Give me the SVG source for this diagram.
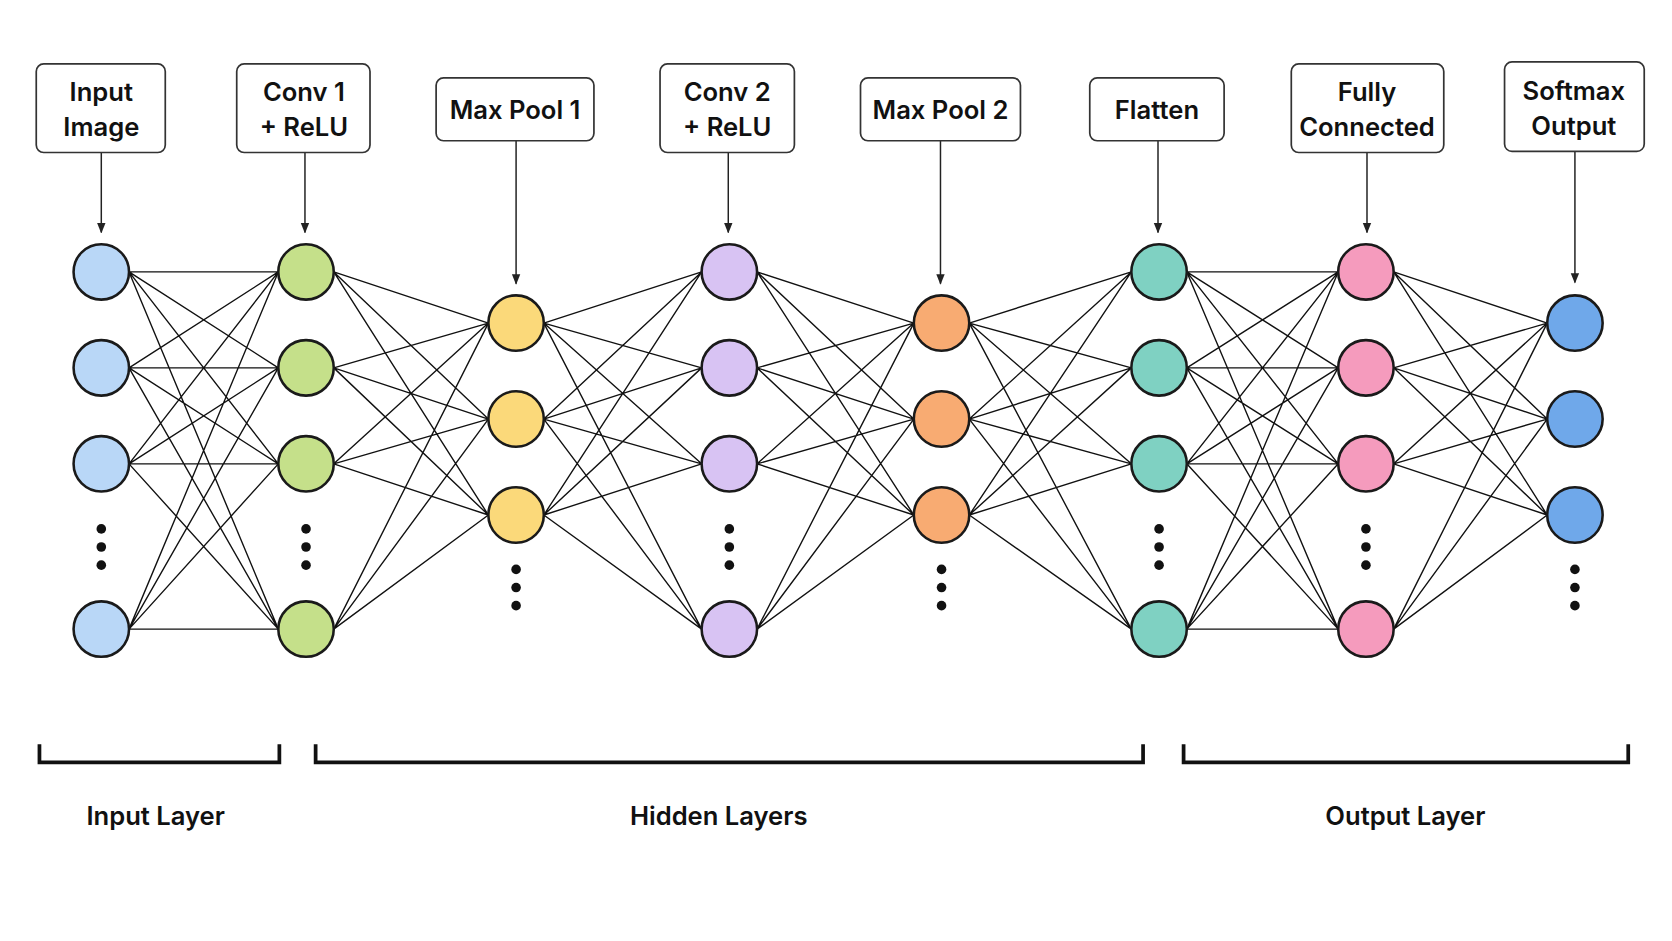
<svg xmlns="http://www.w3.org/2000/svg" width="1672" height="941" viewBox="0 0 1672 941">
<style>
.box{fill:#fff;stroke:#333;stroke-width:1.6}
.t{font-family:"Inter","Noto Sans",sans-serif;font-weight:600;font-size:24px;fill:#111;text-anchor:middle}
.e{stroke:#111;stroke-width:1.3;fill:none}
.a{stroke:#222;stroke-width:1.4;marker-end:url(#ah)}
.n{stroke:#1a1a1a;stroke-width:2.4}
.br{fill:none;stroke:#111;stroke-width:3.5}
</style>
<defs><marker id="ah" viewBox="0 0 10 10" refX="9" refY="5" markerWidth="7" markerHeight="7" orient="auto"><path d="M0,1 L10,5 L0,9z" fill="#222"/></marker></defs>
<rect width="1672" height="941" fill="#fff"/>
<g transform="scale(1.0663)">
<g id="connectors">
<g class="e">
<!-- col1->col2 -->
<path d="M121 255L261 255M121 255L261 345M121 255L261 435M121 255L261 590M121 345L261 255M121 345L261 345M121 345L261 435M121 345L261 590M121 435L261 255M121 435L261 345M121 435L261 435M121 435L261 590M121 590L261 255M121 590L261 345M121 590L261 435M121 590L261 590"/>
<path d="M313 255L458 303M313 255L458 393M313 255L458 483M313 345L458 303M313 345L458 393M313 345L458 483M313 435L458 303M313 435L458 393M313 435L458 483M313 590L458 303M313 590L458 393M313 590L458 483"/>
<path d="M510 303L658 255M510 303L658 345M510 303L658 435M510 303L658 590M510 393L658 255M510 393L658 345M510 393L658 435M510 393L658 590M510 483L658 255M510 483L658 345M510 483L658 435M510 483L658 590"/>
<path d="M710 255L857 303M710 255L857 393M710 255L857 483M710 345L857 303M710 345L857 393M710 345L857 483M710 435L857 303M710 435L857 393M710 435L857 483M710 590L857 303M710 590L857 393M710 590L857 483"/>
<path d="M909 303L1061 255M909 303L1061 345M909 303L1061 435M909 303L1061 590M909 393L1061 255M909 393L1061 345M909 393L1061 435M909 393L1061 590M909 483L1061 255M909 483L1061 345M909 483L1061 435M909 483L1061 590"/>
<path d="M1113 255L1255 255M1113 255L1255 345M1113 255L1255 435M1113 255L1255 590M1113 345L1255 255M1113 345L1255 345M1113 345L1255 435M1113 345L1255 590M1113 435L1255 255M1113 435L1255 345M1113 435L1255 435M1113 435L1255 590M1113 590L1255 255M1113 590L1255 345M1113 590L1255 435M1113 590L1255 590"/>
<path d="M1307 255L1451 303M1307 255L1451 393M1307 255L1451 483M1307 345L1451 303M1307 345L1451 393M1307 345L1451 483M1307 435L1451 303M1307 435L1451 393M1307 435L1451 483M1307 590L1451 303M1307 590L1451 393M1307 590L1451 483"/>
</g>
<line class="a" x1="95" y1="143" x2="95" y2="218"/>
<line class="a" x1="286" y1="143" x2="286" y2="218"/>
<line class="a" x1="484" y1="132" x2="484" y2="266"/>
<line class="a" x1="683" y1="143" x2="683" y2="218"/>
<line class="a" x1="882" y1="132" x2="882" y2="266"/>
<line class="a" x1="1086" y1="132" x2="1086" y2="218"/>
<line class="a" x1="1282" y1="143" x2="1282" y2="218"/>
<line class="a" x1="1477" y1="142" x2="1477" y2="265"/>
</g>
<g id="labels">
<g id="box-input"><rect class="box" x="34" y="60" width="121" height="83" rx="7"/><text class="t" x="95" y="95">Input</text><text class="t" x="95" y="128">Image</text></g>
<g id="box-conv1"><rect class="box" x="222" y="60" width="125" height="83" rx="7"/><text class="t" x="285" y="95">Conv 1</text><text class="t" x="285" y="128">+ ReLU</text></g>
<g id="box-pool1"><rect class="box" x="409" y="73" width="148" height="59" rx="7"/><text class="t" x="483" y="112">Max Pool 1</text></g>
<g id="box-conv2"><rect class="box" x="619" y="60" width="126" height="83" rx="7"/><text class="t" x="682" y="95">Conv 2</text><text class="t" x="682" y="128">+ ReLU</text></g>
<g id="box-pool2"><rect class="box" x="807" y="73" width="150" height="59" rx="7"/><text class="t" x="882" y="112">Max Pool 2</text></g>
<g id="box-flatten"><rect class="box" x="1022" y="73" width="126" height="59" rx="7"/><text class="t" x="1085" y="112">Flatten</text></g>
<g id="box-fc"><rect class="box" x="1211" y="60" width="143" height="83" rx="7"/><text class="t" x="1282" y="95">Fully</text><text class="t" x="1282" y="128">Connected</text></g>
<g id="box-softmax"><rect class="box" x="1411" y="58" width="131" height="84" rx="7"/><text class="t" x="1476" y="94">Softmax</text><text class="t" x="1476" y="127">Output</text></g>
</g>
<g id="nodes">
<g fill="#b9d7f7" class="n"><circle cx="95" cy="255" r="26"/><circle cx="95" cy="345" r="26"/><circle cx="95" cy="435" r="26"/><circle cx="95" cy="590" r="26"/></g>
<g fill="#c5e08a" class="n"><circle cx="287" cy="255" r="26"/><circle cx="287" cy="345" r="26"/><circle cx="287" cy="435" r="26"/><circle cx="287" cy="590" r="26"/></g>
<g fill="#fbd97a" class="n"><circle cx="484" cy="303" r="26"/><circle cx="484" cy="393" r="26"/><circle cx="484" cy="483" r="26"/></g>
<g fill="#d8c3f3" class="n"><circle cx="684" cy="255" r="26"/><circle cx="684" cy="345" r="26"/><circle cx="684" cy="435" r="26"/><circle cx="684" cy="590" r="26"/></g>
<g fill="#f8ab72" class="n"><circle cx="883" cy="303" r="26"/><circle cx="883" cy="393" r="26"/><circle cx="883" cy="483" r="26"/></g>
<g fill="#7fd1c2" class="n"><circle cx="1087" cy="255" r="26"/><circle cx="1087" cy="345" r="26"/><circle cx="1087" cy="435" r="26"/><circle cx="1087" cy="590" r="26"/></g>
<g fill="#f59bbd" class="n"><circle cx="1281" cy="255" r="26"/><circle cx="1281" cy="345" r="26"/><circle cx="1281" cy="435" r="26"/><circle cx="1281" cy="590" r="26"/></g>
<g fill="#6fa8ea" class="n"><circle cx="1477" cy="303" r="26"/><circle cx="1477" cy="393" r="26"/><circle cx="1477" cy="483" r="26"/></g>
<g id="dots" fill="#111">
<circle cx="95" cy="496" r="4.5"/><circle cx="95" cy="513" r="4.5"/><circle cx="95" cy="530" r="4.5"/>
<circle cx="287" cy="496" r="4.5"/><circle cx="287" cy="513" r="4.5"/><circle cx="287" cy="530" r="4.5"/>
<circle cx="684" cy="496" r="4.5"/><circle cx="684" cy="513" r="4.5"/><circle cx="684" cy="530" r="4.5"/>
<circle cx="1087" cy="496" r="4.5"/><circle cx="1087" cy="513" r="4.5"/><circle cx="1087" cy="530" r="4.5"/>
<circle cx="1281" cy="496" r="4.5"/><circle cx="1281" cy="513" r="4.5"/><circle cx="1281" cy="530" r="4.5"/>
<circle cx="484" cy="534" r="4.5"/><circle cx="484" cy="551" r="4.5"/><circle cx="484" cy="568" r="4.5"/>
<circle cx="883" cy="534" r="4.5"/><circle cx="883" cy="551" r="4.5"/><circle cx="883" cy="568" r="4.5"/>
<circle cx="1477" cy="534" r="4.5"/><circle cx="1477" cy="551" r="4.5"/><circle cx="1477" cy="568" r="4.5"/>
</g>
</g>
<g id="brackets">
<path class="br" d="M37 698V715H262V698"/>
<path class="br" d="M296 698V715H1072V698"/>
<path class="br" d="M1110 698V715H1527V698"/>
<text class="t" x="146" y="774">Input Layer</text>
<text class="t" x="674" y="774">Hidden Layers</text>
<text class="t" x="1318" y="774">Output Layer</text>
</g>
</g>
</svg>
